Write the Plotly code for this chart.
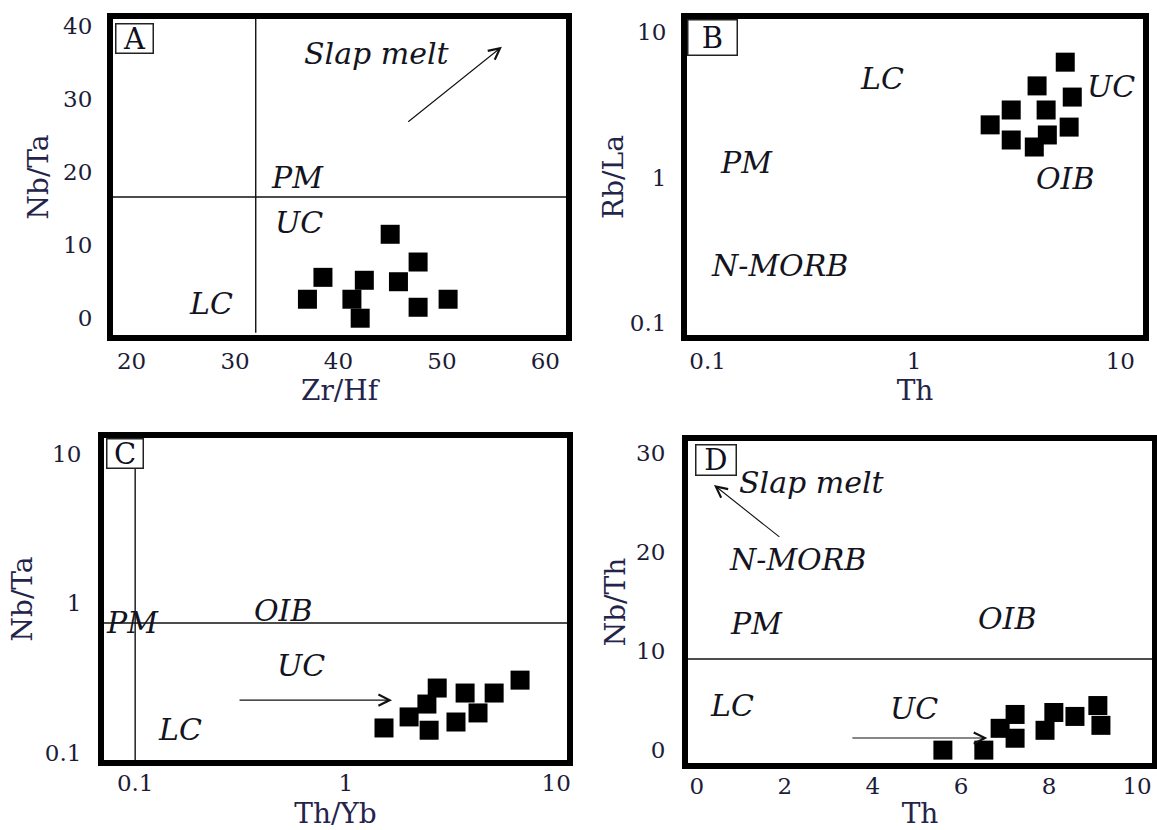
import numpy as np
import plotly.graph_objects as go

# ---------------- data ----------------
# Panel A: Zr/Hf vs Nb/Ta
a_zrhf = [45.0, 47.7, 38.5, 42.5, 45.8, 37.0, 41.3, 50.6, 47.7, 42.1]
a_nbta = [11.5, 7.7, 5.6, 5.2, 5.0, 2.6, 2.6, 2.6, 1.5, 0.0]
# Panel B: Th vs Rb/La (log-log)
b_th = [5.41, 3.95, 5.85, 2.96, 4.37, 2.34, 5.65, 2.96, 4.43, 3.83]
b_rbla = [6.2, 4.26, 3.57, 2.91, 2.91, 2.30, 2.22, 1.81, 1.96, 1.62]
# Panel C: Th/Yb vs Nb/Ta (log-log)
c_thyb = [6.73, 2.72, 3.69, 5.07, 2.43, 2.00, 4.25, 3.34, 1.52, 2.49]
c_nbta = [0.305, 0.270, 0.250, 0.250, 0.211, 0.173, 0.184, 0.160, 0.146, 0.141]
# Panel D: Th vs Nb/Th
d_th = [9.11, 7.23, 8.11, 8.59, 9.18, 6.89, 7.91, 7.23, 5.59, 6.52]
d_nbth = [4.5, 3.6, 3.8, 3.4, 2.5, 2.2, 2.0, 1.2, 0.0, 0.0]

# boundary lines of the discrimination fields
a_div_zrhf = 32.0
a_div_nbta = 16.6
c_div_thyb = 0.1
c_div_nbta = 0.735
d_div_nbth = 9.2

# tick labels
a_xticks = [20, 30, 40, 50, 60]
a_yticks = [0, 10, 20, 30, 40]
log_ticks = [0.1, 1, 10]
log_ticktext = ["0.1", "1", "10"]
d_xticks = [0, 2, 4, 6, 8, 10]
d_yticks = [0, 10, 20, 30]

# ---------------- style ----------------
W, H = 1157, 830
FONT = "DejaVu Serif"
TICKC = "#1c1c36"
TITLEC = "#24244a"
TXTC = "#141420"


def dom(x0, x1, y0, y1):
    return [x0 / W, x1 / W], [1 - y1 / H, 1 - y0 / H]


A_dx, A_dy = dom(113, 566, 19, 335)
B_dx, B_dy = dom(687, 1143, 19, 335)
C_dx, C_dy = dom(104, 567, 438, 760)
D_dx, D_dy = dom(688, 1152, 441, 763)

A_xr, A_yr = [18.2, 62.0], [-2.3, 41.0]
B_xr, B_yr = [-1.10, 1.11], [-1.082, 1.089]
C_xr, C_yr = [-1.148, 1.051], [-1.050, 1.104]
D_xr, D_yr = [-0.2, 10.34], [-1.3, 31.2]

fig = go.Figure()

marker = dict(symbol="square", size=19, color="black", line=dict(width=0))
line_style = dict(color="#111111", width=1.4)

# reference lines
fig.add_trace(go.Scatter(x=[a_div_zrhf, a_div_zrhf], y=[-2.0, A_yr[1]], mode="lines",
                         line=line_style, xaxis="x", yaxis="y", showlegend=False, hoverinfo="skip"))
fig.add_trace(go.Scatter(x=A_xr, y=[a_div_nbta, a_div_nbta], mode="lines",
                         line=line_style, xaxis="x", yaxis="y", showlegend=False, hoverinfo="skip"))
fig.add_trace(go.Scatter(x=[c_div_thyb, c_div_thyb], y=[7.87, 10 ** C_yr[0]], mode="lines",
                         line=line_style, xaxis="x3", yaxis="y3", showlegend=False, hoverinfo="skip"))
fig.add_trace(go.Scatter(x=[10 ** C_xr[0], 10 ** C_xr[1]], y=[c_div_nbta, c_div_nbta], mode="lines",
                         line=line_style, xaxis="x3", yaxis="y3", showlegend=False, hoverinfo="skip"))
fig.add_trace(go.Scatter(x=D_xr, y=[d_div_nbth, d_div_nbth], mode="lines",
                         line=line_style, xaxis="x4", yaxis="y4", showlegend=False, hoverinfo="skip"))

# samples
fig.add_trace(go.Scatter(x=a_zrhf, y=a_nbta, mode="markers", marker=marker,
                         xaxis="x", yaxis="y", showlegend=False))
fig.add_trace(go.Scatter(x=b_th, y=b_rbla, mode="markers", marker=marker,
                         xaxis="x2", yaxis="y2", showlegend=False))
fig.add_trace(go.Scatter(x=c_thyb, y=c_nbta, mode="markers", marker=marker,
                         xaxis="x3", yaxis="y3", showlegend=False))
fig.add_trace(go.Scatter(x=d_th, y=d_nbth, mode="markers", marker=marker,
                         xaxis="x4", yaxis="y4", showlegend=False))


def ax(domain, rng, typ, tickvals, ticktext, title, standoff, anchor, lab_standoff):
    return dict(domain=domain, range=rng, type=typ, tickvals=tickvals, ticktext=ticktext,
                showline=True, mirror=True, linewidth=6, linecolor="black",
                showgrid=False, zeroline=False, ticks="", anchor=anchor,
                ticklabelstandoff=lab_standoff, automargin=False,
                tickfont=dict(family=FONT, size=23, color=TICKC),
                title=dict(text=title, standoff=standoff,
                           font=dict(family=FONT, size=28, color=TITLEC)))


fig.update_layout(
    width=W, height=H, margin=dict(l=0, r=0, t=0, b=0, autoexpand=False),
    paper_bgcolor="white", plot_bgcolor="white",
    xaxis=ax(A_dx, A_xr, "linear", a_xticks, [str(v) for v in a_xticks], "Zr/Hf", 0, "y", 0),
    yaxis=ax(A_dy, A_yr, "linear", a_yticks, [str(v) for v in a_yticks], "Nb/Ta", 8, "x", 10),
    xaxis2=ax(B_dx, B_xr, "log", log_ticks, log_ticktext, "Th", 0, "y2", 0),
    yaxis2=ax(B_dy, B_yr, "log", log_ticks, log_ticktext, "Rb/La", 0, "x2", 10),
    xaxis3=ax(C_dx, C_xr, "log", log_ticks, log_ticktext, "Th/Yb", 12, "y3", -3),
    yaxis3=ax(C_dy, C_yr, "log", log_ticks, log_ticktext, "Nb/Ta", 6, "x3", 12),
    xaxis4=ax(D_dx, D_xr, "linear", d_xticks, [str(v) for v in d_xticks], "Th", 12, "y4", -3),
    yaxis4=ax(D_dy, D_yr, "linear", d_yticks, [str(v) for v in d_yticks], "Nb/Th", 4, "x4", 12),
)

L = np.log10
ann = []


def lab(text, x, y, xr, yr, size=30):
    ann.append(dict(text="<i>%s</i>" % text, x=x, y=y, xref=xr, yref=yr, showarrow=False,
                    xanchor="center", yanchor="middle",
                    font=dict(family=FONT, size=size, color=TXTC)))


# Panel A labels
lab("Slap melt", 43.7, 36.3, "x", "y")
lab("PM", 36.0, 19.35, "x", "y")
lab("UC", 36.2, 13.05, "x", "y")
lab("LC", 27.7, 2.08, "x", "y")
# Panel B labels (log axes -> log10 coordinates)
lab("LC", L(0.70), L(4.82), "x2", "y2")
lab("UC", L(9.0), L(4.25), "x2", "y2")
lab("PM", L(0.155), L(1.26), "x2", "y2")
lab("OIB", L(5.40), L(0.99), "x2", "y2")
lab("N-MORB", L(0.222), L(0.25), "x2", "y2")
# Panel C labels
lab("OIB", L(0.509), L(0.897), "x3", "y3")
lab("PM", L(0.0966), L(0.746), "x3", "y3")
lab("UC", L(0.614), L(0.385), "x3", "y3")
lab("LC", L(0.163), L(0.1435), "x3", "y3")
# Panel D labels
lab("Slap melt", 2.62, 27.06, "x4", "y4")
lab("N-MORB", 2.28, 19.29, "x4", "y4")
lab("PM", 1.345, 12.83, "x4", "y4")
lab("OIB", 7.05, 13.33, "x4", "y4")
lab("LC", 0.80, 4.55, "x4", "y4")
lab("UC", 4.93, 4.25, "x4", "y4")


def arrow(x, y, axv, ayv, xr, yr):
    ann.append(dict(text="", x=x, y=y, ax=axv, ay=ayv, xref=xr, yref=yr, axref=xr, ayref=yr,
                    showarrow=True, arrowhead=5, arrowsize=2.0, arrowwidth=1.1,
                    arrowcolor="#111111"))


arrow(55.8, 37.2, 46.6, 26.75, "x", "y")
arrow(L(1.66), L(0.224), L(0.308), L(0.224), "x3", "y3")
arrow(0.39, 26.76, 1.91, 21.4, "x4", "y4")
arrow(6.60, 1.22, 3.50, 1.22, "x4", "y4")


# panel letters in boxes
def letter(t, fx, fy, xr, yr, w, h):
    ann.append(dict(text=t, x=fx, y=fy, xref=xr + " domain", yref=yr + " domain", showarrow=False,
                    xanchor="center", yanchor="middle",
                    width=w, height=h, borderwidth=1.5, bordercolor="#222222", borderpad=0,
                    bgcolor="white", font=dict(family=FONT, size=29, color="#101020")))


letter("A", 0.0475, 0.938, "x", "y", 36, 28)
letter("B", 0.056, 0.9415, "x2", "y2", 48, 34)
letter("C", 0.0454, 0.952, "x3", "y3", 35, 28)
letter("D", 0.0603, 0.941, "x4", "y4", 39, 29)

fig.update_layout(annotations=ann)
fig.write_html("out.html", config={"displayModeBar": False},
               post_script="document.body.style.margin='0px';document.body.style.overflow='hidden';")
